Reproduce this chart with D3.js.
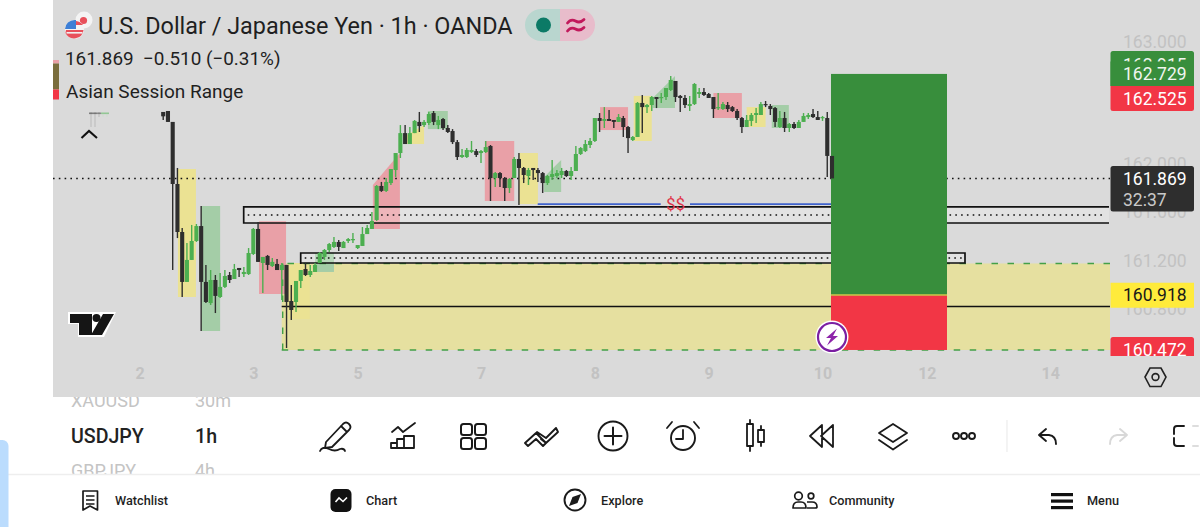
<!DOCTYPE html>
<html><head><meta charset="utf-8">
<script src="https://cdn.jsdelivr.net/npm/d3@7/dist/d3.min.js"></script>
<style>html,body{margin:0;padding:0;background:#fff;overflow:hidden}svg{display:block}text{font-family:Roboto,sans-serif}</style>
</head><body><svg id="c" width="1200" height="527" viewBox="0 0 1200 527"></svg>
<script>
const candleHigh=[162.334,161.955,161.461,161.337,161.486,161.494,161.642,161.157,161.115,161.074,161.090,161.115,161.099,161.165,161.132,161.140,161.296,161.461,161.511,161.223,161.239,161.214,161.206,161.173,161.157,160.992,161.025,161.115,161.173,161.157,161.173,161.263,161.288,161.337,161.387,161.362,161.354,161.379,161.420,161.321,161.469,161.486,161.593,161.815,161.840,161.872,161.946,162.078,162.308,162.308,162.292,162.350,162.416,162.350,162.416,162.424,162.383,162.366,162.308,162.275,162.185,162.111,162.119,162.177,162.111,162.103,162.177,162.144,161.922,161.922,161.881,161.872,162.045,162.078,161.963,161.955,161.955,161.955,161.922,161.897,162.021,161.938,161.955,161.938,161.963,162.136,162.127,162.185,162.201,162.366,162.407,162.456,162.432,162.350,162.399,162.383,162.300,162.218,162.498,162.556,162.481,162.548,162.539,162.572,162.613,162.712,162.671,162.556,162.556,162.548,162.654,162.613,162.613,162.572,162.539,162.572,162.498,162.498,162.465,162.440,162.374,162.391,162.407,162.448,162.498,162.506,162.481,162.456,162.424,162.416,162.325,162.334,162.350,162.407,162.407,162.440,162.424,162.383,162.416,162.054];
const candleLow=[161.115,161.378,160.893,161.017,161.198,161.346,160.613,160.843,160.827,160.761,160.885,160.967,161.008,161.041,161.058,161.058,161.074,161.239,161.182,160.926,161.115,161.140,161.115,160.868,160.473,160.704,160.770,160.967,161.066,161.058,161.099,161.173,161.198,161.263,161.296,161.272,161.296,161.337,161.337,161.288,161.313,161.411,161.453,161.519,161.758,161.758,161.815,161.881,162.037,162.152,162.152,162.242,162.251,162.292,162.308,162.308,162.275,162.267,162.242,162.152,162.021,162.037,162.037,162.078,162.045,161.996,162.078,161.683,161.798,161.798,161.683,161.749,161.872,161.650,161.831,161.815,161.856,161.840,161.749,161.815,161.856,161.872,161.872,161.881,161.856,161.930,162.062,162.086,162.119,162.168,162.251,162.284,162.342,162.284,162.334,162.210,162.078,162.177,162.210,162.242,162.407,162.424,162.448,162.490,162.514,162.589,162.498,162.416,162.448,162.424,162.473,162.531,162.548,162.531,162.366,162.432,162.432,162.416,162.416,162.350,162.242,162.292,162.300,162.325,162.391,162.456,162.391,162.292,162.284,162.251,162.251,162.275,162.284,162.334,162.358,162.366,162.350,162.342,161.881,161.872];
const candleOpen=[162.334,161.823,161.428,161.017,161.198,161.354,161.477,161.017,160.843,161.033,160.893,160.976,161.074,161.041,161.132,161.082,161.082,161.247,161.453,161.173,161.231,161.148,161.165,161.115,161.157,160.860,160.852,161.025,161.123,161.074,161.099,161.173,161.223,161.280,161.305,161.346,161.296,161.354,161.362,161.296,161.313,161.411,161.453,161.527,161.807,161.766,161.831,161.938,162.078,162.242,162.152,162.242,162.334,162.308,162.325,162.407,162.308,162.358,162.284,162.259,162.168,162.045,162.045,162.086,162.094,162.078,162.086,162.136,161.872,161.913,161.872,161.790,161.872,162.029,161.955,161.889,161.955,161.938,161.913,161.831,161.881,161.889,161.897,161.930,161.889,161.930,162.070,162.094,162.144,162.177,162.366,162.342,162.358,162.350,162.334,162.366,162.292,162.185,162.210,162.490,162.456,162.473,162.539,162.531,162.539,162.597,162.671,162.548,162.531,162.465,162.481,162.564,162.580,162.564,162.539,162.448,162.440,162.473,162.456,162.424,162.366,162.292,162.342,162.391,162.391,162.481,162.465,162.448,162.292,162.366,162.284,162.317,162.284,162.334,162.374,162.399,162.374,162.366,162.366,162.054];
const candleClose=[161.823,161.428,161.017,161.198,161.354,161.477,161.017,160.852,161.033,160.902,160.976,161.066,161.033,161.123,161.115,161.099,161.255,161.453,161.182,161.223,161.157,161.182,161.115,161.157,160.852,160.786,161.025,161.115,161.074,161.107,161.157,161.255,161.280,161.329,161.346,161.305,161.346,161.370,161.370,161.321,161.411,161.461,161.519,161.807,161.766,161.840,161.946,162.078,162.242,162.152,162.242,162.342,162.300,162.334,162.399,162.334,162.350,162.284,162.251,162.168,162.045,162.062,162.103,162.103,162.062,162.094,162.127,161.872,161.913,161.872,161.790,161.864,162.029,161.955,161.897,161.938,161.938,161.913,161.831,161.889,161.905,161.913,161.930,161.889,161.930,162.070,162.119,162.152,162.177,162.366,162.342,162.358,162.342,162.334,162.374,162.292,162.201,162.210,162.490,162.456,162.473,162.539,162.523,162.539,162.613,162.679,162.539,162.531,162.473,162.481,162.646,162.580,162.556,162.531,162.440,162.456,162.481,162.440,162.424,162.366,162.292,162.350,162.391,162.407,162.481,162.473,162.440,162.334,162.366,162.284,162.317,162.284,162.334,162.383,162.391,162.374,162.350,162.374,162.054,161.869];

const earlyIndex=[-2,-1];
const earlyHigh=[162.416,162.424];
const earlyLow=[162.350,162.334];
const earlyOpen=[162.416,162.424];
const earlyClose=[162.380,162.334];

const zoneKind=["y","g","r","y","g","r","y","g","r","y","g","r","y","g","r","y","g","r"];
const zoneFrom=[1.1,6,18.2,24.3,30,42.2,49.4,53.8,65.8,73,78.3,90.1,97.2,101.2,114,121,126.3,138.9];
const zoneTo=[4.9,10,23.9,28.9,34,47.9,53,58,72,77,81.9,96,101,105.9,120,125,129.9,139.8];
const zoneTopL=[161.946,161.642,161.519,161.173,161.255,161.815,162.226,162.424,162.177,162.078,161.881,162.456,162.548,162.531,162.572,162.456,162.473,162.416];
const zoneTopR=[161.946,161.642,161.519,161.173,161.255,162.078,162.308,162.424,162.177,162.078,162.021,162.456,162.548,162.712,162.572,162.456,162.473,162.416];
const zoneBot=[160.893,160.613,160.918,160.712,161.099,161.453,162.152,162.275,161.683,161.658,161.758,162.267,162.177,162.448,162.366,162.292,162.284,161.708];

const priceTicks=[163,162,161.6,161.2,160.8];
const timeIdx=[-7,17,39,65,89,113,137,159,185];
const timeLabels=["2","3","5","7","8","9","10","12","14"];

const lastPrice=161.869;
const targetPrice=162.729, entryPrice=160.91, stopPrice=160.457;
const rangeTop=161.169, rangeBottom=160.457, rangeMid=160.815;
const boxATop=161.634, boxABottom=161.502, boxBTop=161.255, boxBBottom=161.173;
const liquidityLine=161.658;

const svg=d3.select("#c");
const x=d3.scaleLinear().domain([0,139]).range([172.7,832]);
const y=d3.scaleLinear().domain([163,160]).range([41,405.5]);
const zoneFill={y:"#ebe293",g:"#a4cda7",r:"#e9a0a7"};
const GREEN="#4caf50",BLACK="#2e2e2e";

/* lower list rows, clipped by the panel and the nav */
const list=svg.append("g");
[["XAUUSD","30m",400.5,"#c4c4c4",18,400],["USDJPY","1h",436,"#222",19.6,500],["GBPJPY","4h",471,"#c4c4c4",18,400]].forEach(r=>{
  list.append("text").attr("x",71).attr("y",r[2]).attr("dy","0.36em").attr("fill",r[3]).attr("font-size",r[4]).attr("font-weight",r[5]).text(r[0]);
  list.append("text").attr("x",195).attr("y",r[2]).attr("dy","0.36em").attr("fill",r[3]).attr("font-size",r[4]).attr("font-weight",r[5]).text(r[1]);
});
svg.append("rect").attr("x",0).attr("y",474).attr("width",1200).attr("height",53).attr("fill","#fff");
svg.append("line").attr("x1",0).attr("x2",1200).attr("y1",474.5).attr("y2",474.5).attr("stroke","#eeeeee").attr("stroke-width",1.5);
svg.append("rect").attr("x",-10).attr("y",440).attr("width",18.5).attr("height",100).attr("rx",6).attr("fill","#bbdcfd");

/* panel */
svg.append("rect").attr("x",53).attr("y",0).attr("width",1147).attr("height",397).attr("fill","#dadada");

/* zones */
const zonesG=svg.append("g");
zonesG.selectAll("path").data(zoneKind).join("path")
 .attr("fill",d=>zoneFill[d])
 .attr("d",(d,i)=>{const a=x(zoneFrom[i]),b=x(zoneTo[i]);
   return d3.line()([[a,y(zoneTopL[i])],[b,y(zoneTopR[i])],[b,y(zoneBot[i])],[a,y(zoneBot[i])]])+"Z";});

/* big range zone */
const rL=281.7,rR=1110;
svg.append("rect").attr("x",rL).attr("y",y(rangeTop)).attr("width",rR-rL).attr("height",y(rangeBottom)-y(rangeTop)).attr("fill","#e6e0a0");
zonesG.raise();
svg.append("line").attr("x1",rL).attr("x2",rR).attr("y1",y(rangeMid)).attr("y2",y(rangeMid)).attr("stroke","#111").attr("stroke-width",1.6);
const dash=svg.append("g").attr("stroke","#43a047").attr("stroke-width",1.4).attr("stroke-dasharray","6.5 9.5").attr("fill","none");
dash.append("path").attr("d",`M${rR},${y(rangeTop)}H${rL+2}`);
dash.append("path").attr("d",`M${rL+1},${y(rangeTop)}V${y(rangeBottom)}`);
dash.append("path").attr("d",`M${rL},${y(rangeBottom)}H${rR}`);

/* boxes */
const boxes=[[243.7,1109,boxATop,boxABottom],[300.7,965,boxBTop,boxBBottom]];
boxes.forEach((b,k)=>{
  const t=y(b[2]),bt=y(b[3]);
  svg.append("rect").attr("x",b[0]).attr("y",t).attr("width",b[1]-b[0]).attr("height",bt-t).attr("fill","#ffffff").attr("fill-opacity",.22);
  svg.append("path").attr("fill","none").attr("stroke","#111").attr("stroke-width",1.7)
    .attr("d",k==0?`M${b[1]},${t}H${b[0]}V${bt}H${b[1]}`:`M${b[0]},${bt+1}V${t}H${b[1]}V${bt}H${b[0]}`);
  svg.append("line").attr("x1",b[0]+4).attr("x2",b[1]-3).attr("y1",(t+bt)/2).attr("y2",(t+bt)/2)
    .attr("stroke","#111").attr("stroke-width",1.6).attr("stroke-dasharray","1.6 4.2");
});

/* last price dotted */
svg.append("line").attr("x1",53).attr("x2",1110).attr("y1",y(lastPrice)).attr("y2",y(lastPrice))
  .attr("stroke","#111").attr("stroke-width",1.5).attr("stroke-dasharray","1.6 4.2");

/* liquidity line */
const liq=svg.append("g").attr("stroke","#3f62cc").attr("stroke-width",1.8);
liq.append("line").attr("x1",537.7).attr("x2",660.7).attr("y1",y(liquidityLine)).attr("y2",y(liquidityLine));
liq.append("line").attr("x1",690).attr("x2",831).attr("y1",y(liquidityLine)).attr("y2",y(liquidityLine));
svg.append("text").attr("x",675.5).attr("y",y(liquidityLine)).attr("dy","0.36em").attr("text-anchor","middle").attr("font-size",17).attr("fill","#e0364a").text("$$");

/* candles */
function drawCandles(idx,hi,lo,op,cl){
  const g=svg.append("g");
  g.selectAll("line").data(idx).join("line")
   .attr("x1",i=>x(i)).attr("x2",i=>x(i))
   .attr("y1",(d,k)=>y(hi[k])).attr("y2",(d,k)=>y(lo[k]))
   .attr("stroke",(d,k)=>cl[k]>=op[k]?GREEN:BLACK).attr("stroke-width",1.4);
  g.selectAll("rect").data(idx).join("rect")
   .attr("x",i=>x(i)-2.05).attr("width",4.1)
   .attr("y",(d,k)=>y(Math.max(op[k],cl[k])))
   .attr("height",(d,k)=>Math.max(1.2,Math.abs(y(op[k])-y(cl[k]))))
   .attr("fill",(d,k)=>cl[k]>=op[k]?GREEN:BLACK);
}
drawCandles(d3.range(candleOpen.length-1),candleHigh.slice(0,-1),candleLow.slice(0,-1),candleOpen.slice(0,-1),candleClose.slice(0,-1));
drawCandles(earlyIndex,earlyHigh,earlyLow,earlyOpen,earlyClose);

/* long position tool */
const tL=831,tR=947;
svg.append("rect").attr("x",tL).attr("y",y(targetPrice)).attr("width",tR-tL).attr("height",y(entryPrice)-y(targetPrice)).attr("fill","#388e3c");
svg.append("rect").attr("x",tL).attr("y",y(entryPrice)).attr("width",tR-tL).attr("height",y(stopPrice)-y(entryPrice)).attr("fill","#f23645");
svg.append("line").attr("x1",tL).attr("x2",tR).attr("y1",y(entryPrice)).attr("y2",y(entryPrice)).attr("stroke","#c9c94a").attr("stroke-width",1.6);
drawCandles([139],candleHigh.slice(-1),candleLow.slice(-1),candleOpen.slice(-1),candleClose.slice(-1));
/* badge */
svg.append("circle").attr("cx",832).attr("cy",337).attr("r",16.5).attr("fill","#fff");
svg.append("circle").attr("cx",832).attr("cy",337).attr("r",14).attr("fill","#fff").attr("stroke","#7b1fa2").attr("stroke-width",2.2);
svg.append("path").attr("d","M837,328.5 L826,338 L831,338 L827,345.5 L838,336 L833,336 Z").attr("fill","#8e24aa");

/* top-left strip */
svg.append("rect").attr("x",53).attr("y",60).attr("width",6).attr("height",3.5).attr("fill","#e9a0a7");
svg.append("rect").attr("x",53).attr("y",63.5).attr("width",6).attr("height",26).attr("fill","#7a6d3c");
svg.append("rect").attr("x",53).attr("y",89.5).attr("width",6).attr("height",10).attr("fill","#f23645");
/* tiny early candles beneath legend */
const tiny=svg.append("g");
[[91,"#222"],[95,"#222"],[99,"#3a3a3a"],[103,GREEN],[107,GREEN]].forEach(t=>{
  tiny.append("rect").attr("x",t[0]-1.5).attr("y",112.5).attr("width",3).attr("height",1.6).attr("fill",t[1]);
  tiny.append("line").attr("x1",t[0]).attr("x2",t[0]).attr("y1",112).attr("y2",t[1]=="#222"?127:117).attr("stroke",t[1]==GREEN?"#cfdcd0":"#bdbdbd").attr("stroke-width",1.1);
});

/* price axis */
const yAxis=d3.axisRight(y).tickValues(priceTicks).tickFormat(d3.format(".3f")).tickSize(0).tickPadding(0);
const yG=svg.append("g").attr("transform","translate(1123,1)").call(yAxis);
yG.select(".domain").remove();
yG.selectAll("text").attr("fill","#c2c2c2").attr("font-size",17.5).attr("font-family","Roboto");

/* time axis */
const xAxis=d3.axisBottom(x).tickValues(timeIdx).tickFormat((d,i)=>timeLabels[i]).tickSize(0).tickPadding(0);
const xG=svg.append("g").attr("transform","translate(0,368)").call(xAxis);
xG.select(".domain").remove();
xG.selectAll("text").attr("fill","#c2c2c2").attr("font-size",16).attr("font-weight",700).attr("font-family","Roboto");

/* price pills */
function pill(yt,h,fill,rTop,rBottom){
  const a=1110.5,b=1194,r=2.5;
  const tl=rTop?r:0,bl=rBottom?r:0;
  svg.append("path").attr("fill",fill).attr("d",`M${a+tl},${yt}H${b-tl}Q${b},${yt} ${b},${yt+tl}V${yt+h-bl}Q${b},${yt+h} ${b-bl},${yt+h}H${a+bl}Q${a},${yt+h} ${a},${yt+h-bl}V${yt+tl}Q${a},${yt} ${a+tl},${yt}Z`);
}
function pillText(t,cy,fill,size){svg.append("text").attr("x",1123).attr("y",cy).attr("dy","0.36em").attr("font-size",size||17.5).attr("fill",fill).text(t);}
pill(51,35,"#388e3c",true,false);
pillText("162.915",64.5,"#f0f5f0");
svg.append("rect").attr("x",1110.5).attr("y",61.5).attr("width",83.5).attr("height",24.5).attr("fill","#388e3c");
pillText("162.729",74,"#f0f5f0");
pill(86,25,"#f23645",false,true);
pillText("162.525",99,"#fff");
pill(166,45.5,"#2e2e2e",true,true);
pillText("161.869",179,"#fff");
pillText("32:37",200,"#c9c9c9");
pill(282.7,25,"#ffeb3b",false,false);
pillText("160.918",295,"#1a1a1a");
pill(337,19,"#f23645",true,false);
pillText("160.472",350,"#fff");
svg.append("rect").attr("x",1105).attr("y",356).attr("width",95).attr("height",8).attr("fill","#dadada");

/* hex settings icon */
svg.append("path").attr("fill","none").attr("stroke","#222").attr("stroke-width",1.6).attr("d","M1145,377 L1150,368 L1161,368 L1166,377 L1161,386.5 L1150,386.5 Z");
svg.append("circle").attr("cx",1155.5).attr("cy",377).attr("r",3.4).attr("fill","none").attr("stroke","#222").attr("stroke-width",1.6);

/* legend */
svg.append("text").attr("x",98).attr("y",33.5).attr("font-size",23.4).attr("fill","#1f1f1f").text("U.S. Dollar / Japanese Yen · 1h · OANDA");
svg.append("text").attr("x",65).attr("y",64.5).attr("font-size",18.9).attr("fill","#1f1f1f").attr("xml:space","preserve").text("161.869  −0.510 (−0.31%)");
svg.append("text").attr("x",66).attr("y",98).attr("font-size",19).attr("fill","#1f1f1f").text("Asian Session Range");

/* flags */
svg.append("circle").attr("cx",84).attr("cy",20).attr("r",8.5).attr("fill","#f4f4f4");
svg.append("circle").attr("cx",83.5).attr("cy",20.5).attr("r",3.6).attr("fill","#e8505b");
svg.append("circle").attr("cx",74.5).attr("cy",29.5).attr("r",9.5).attr("fill","#f4f4f4");
svg.append("path").attr("fill","#e8505b").attr("d","M66,30 H83.5 A9.5,9.5 0 0 1 65.5,33 Z");
svg.append("rect").attr("x",66.5).attr("y",32).attr("width",16).attr("height",1.6).attr("fill","#f0f0f0");
svg.append("path").attr("fill","#3d7fd6").attr("d","M65,29 A9.5,9.5 0 0 1 74.5,20 H76 V29 Z");
svg.append("path").attr("fill","#e8505b").attr("d","M76,21 A9.5,9.5 0 0 1 83,25 H76 Z");

/* status pill */
svg.append("path").attr("d","M560,9 H541 A16,16 0 0 0 541,41 H560 Z").attr("fill","#b9d6cf");
svg.append("path").attr("d","M560,9 H579 A16,16 0 0 1 579,41 H560 Z").attr("fill","#e8bccb");
svg.append("circle").attr("cx",543.5).attr("cy",25).attr("r",7.5).attr("fill","#0b7a66");
svg.append("path").attr("fill","none").attr("stroke","#c2185b").attr("stroke-width",2.8).attr("stroke-linecap","round")
  .attr("d","M567.5,23 Q571,18.5 575.5,21 T584,19.5 M567.5,31 Q571,26.5 575.5,29 T584,27.5");

/* chevron */
svg.append("path").attr("fill","none").attr("stroke","#111").attr("stroke-width",2.1).attr("d","M81.5,138 L89,131 L97,138");

/* TV logo */
const logo=svg.append("g");
logo.append("path").attr("d","M68,312 H116 L104,337 H78 V324 H68 Z").attr("fill","#fff");
logo.append("path").attr("d","M70,314 H92 V335 H79 V323 H70 Z M103,314 H114 L102,335 H91 Z").attr("fill","#151515");
logo.append("circle").attr("cx",96.5).attr("cy",318).attr("r",4).attr("fill","#151515");
logo.append("rect").attr("x",92).attr("y",313).attr("width",1).attr("height",0.1).attr("fill","#fff");

/* toolbar icons */
const ic=svg.append("g").attr("fill","none").attr("stroke","#1a1a1a").attr("stroke-width",1.8).attr("stroke-linejoin","round").attr("stroke-linecap","round");
ic.append("path").attr("d","M326,442 L343,424 Q346,421 349,424 Q352,427 349,430 L332,447 L325,448 Z M341,426 L347,432");
ic.append("path").attr("d","M320,451 Q322,446 329,449 Q335,452 340,449 Q344,448 345,451");
ic.append("path").attr("d","M392,432 L398,427 L403,432 L415,423");
ic.append("path").attr("d","M391,448 V443 H397 V448 Z M397,448 V439 H404 V448 M404,448 V436 H414 V448 H391").attr("stroke-width",1.8);
[[461,424],[475,424],[461,438],[475,438]].forEach(p=>ic.append("rect").attr("x",p[0]).attr("y",p[1]).attr("width",11).attr("height",11).attr("rx",2.5).attr("stroke-width",2));
ic.append("path").attr("stroke-width",1.9).attr("d","M525,443 L536,433 L546,443 L543,446 L536,439 L528,446 Z M537,432 L546,438 L556,428 L558,432 L546,443 L541,439");
ic.append("circle").attr("cx",613).attr("cy",436).attr("r",14.5).attr("stroke-width",1.9);
ic.append("path").attr("stroke-width",2).attr("d","M604.5,436 H621.5 M613,427.5 V444.5");
ic.append("circle").attr("cx",683).attr("cy",438).attr("r",12).attr("stroke-width",1.9);
ic.append("path").attr("d","M683,430 V439 H676 M667,428 L672,422 M699,428 L694,422");
ic.append("path").attr("d","M747,424 H753 V446 H747 Z M750,420 V424 M750,446 V451 M758,430 H764 V442 H758 Z M761,426 V430 M761,442 V446");
ic.append("path").attr("d","M822,425 L810,436 L822,447 Z M833,425 L821,436 L833,447 Z");
ic.append("path").attr("d","M893,424 L907,433 L893,442 L879,433 Z M879,440 L893,449.5 L907,440");
[[956,436],[964,436],[972,436]].forEach(p=>ic.append("circle").attr("cx",p[0]).attr("cy",p[1]).attr("r",3).attr("stroke-width",1.9));
ic.append("path").attr("stroke-width",1.9).attr("d","M1046,429 L1039,435 L1046,441 M1039,435 H1049 Q1056,436 1056,444");
ic.append("path").attr("stroke","#d8d8d8").attr("stroke-width",1.9).attr("d","M1120,429 L1127,435 L1120,441 M1127,435 H1117 Q1110,436 1110,444");
ic.append("path").attr("stroke-width",1.9).attr("d","M1184,426 H1177 Q1174,426 1174,429 V434 M1174,438 V443 Q1174,446 1177,446 H1184");
ic.append("path").attr("stroke","#dddddd").attr("stroke-width",1.9).attr("d","M1193,426 H1198 M1193,446 H1198");
svg.append("line").attr("x1",1007).attr("x2",1007).attr("y1",420).attr("y2",452).attr("stroke","#ececec").attr("stroke-width",1.2);

/* bottom nav */
const nav=svg.append("g").attr("font-size",12.7).attr("font-weight",500).attr("fill","#1f1f1f");
[["Watchlist",115],["Chart",366],["Explore",601],["Community",829],["Menu",1087]].forEach(n=>nav.append("text").attr("x",n[1]).attr("y",505).text(n[0]));
const ni=svg.append("g").attr("fill","none").attr("stroke","#1a1a1a").attr("stroke-width",1.7).attr("stroke-linejoin","round");
ni.append("path").attr("d","M83,491 H97.5 V510 L90,506 L83,510 Z M86,496 H94.5 M86,500 H94.5 M86,504 H94.5");
svg.append("rect").attr("x",330.5).attr("y",489).attr("width",21).attr("height",23).attr("rx",5).attr("fill","#111");
svg.append("path").attr("fill","none").attr("stroke","#fff").attr("stroke-width",1.6).attr("d","M335.5,502 L339,498 L343,501.5 L347,497.5");
ni.append("circle").attr("cx",575).attr("cy",500).attr("r",10.5).attr("stroke-width",1.9);
svg.append("path").attr("fill","#1a1a1a").attr("d","M581,494 L577.5,503 L569,506 L572.5,497 Z");
ni.append("circle").attr("cx",798.5).attr("cy",496).attr("r",3.8);
ni.append("circle").attr("cx",811).attr("cy",496).attr("r",2.8);
ni.append("path").attr("d","M793,508 Q793,502 798,502 H801 Q806,502 806,508 Z M807,502 H812 Q817,502 817,507 Q817,508 815,508 H807");
svg.append("g").attr("fill","#111").selectAll("rect").data([493,499.5,506]).join("rect").attr("x",1051).attr("y",d=>d).attr("width",22).attr("height",3.2);
</script></body></html>
